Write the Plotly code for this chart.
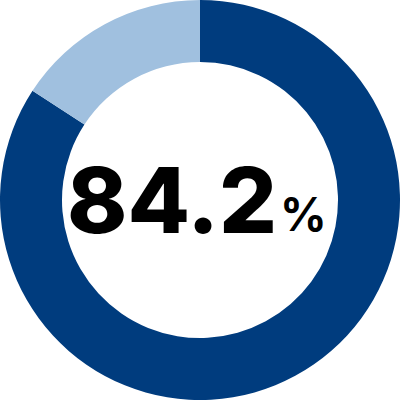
import plotly.graph_objects as go

labels = ["Yes", "No"]
values = [84.2, 15.8]
colors = ["#003C7E", "#A0C0DF"]
center_value = "84.2"
center_unit = "%"

fig = go.Figure(go.Pie(
    labels=labels, values=values, hole=0.69, sort=False,
    direction="clockwise", rotation=0,
    marker=dict(colors=colors, line=dict(width=0)),
    textinfo="none", hoverinfo="none", showlegend=False,
    domain=dict(x=[0, 1], y=[0, 1]),
))

fig.add_annotation(
    text=center_value, x=0.697, y=0.5, xref="paper", yref="paper",
    xanchor="right", yanchor="middle", showarrow=False,
    font=dict(family="Inter", size=91, color="#000000", weight=800),
)
fig.add_annotation(
    text=center_unit, x=0.695, y=0.39, xref="paper", yref="paper",
    xanchor="left", yanchor="bottom", showarrow=False,
    font=dict(family="Inter", size=46, color="#000000", weight=700),
)

fig.update_layout(
    width=400, height=400, margin=dict(l=0, r=0, t=0, b=0),
    paper_bgcolor="white", plot_bgcolor="white",
)
fig.write_html("out.html", config={"displayModeBar": False},
               post_script="document.body.style.margin='0';")
